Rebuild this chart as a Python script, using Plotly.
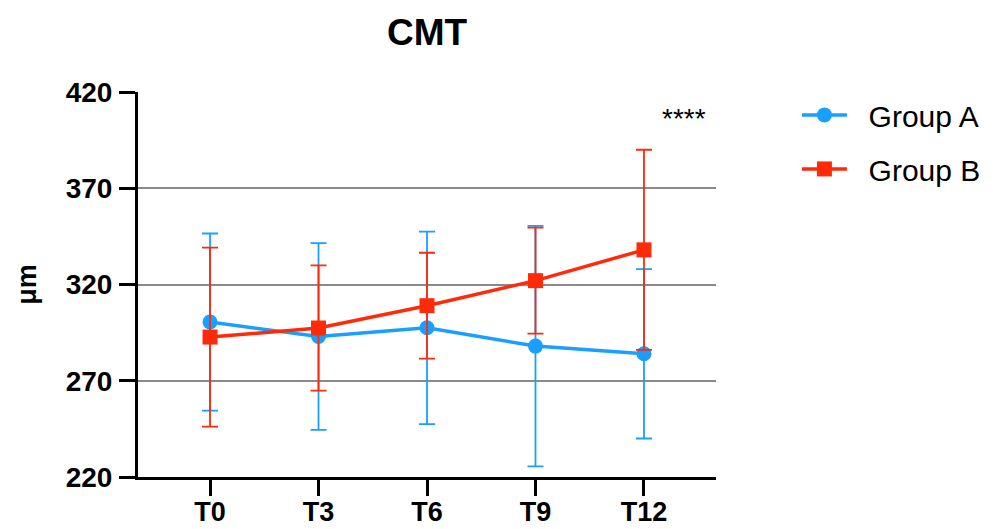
import plotly.graph_objects as go

timepoints = ["T0", "T3", "T6", "T9", "T12"]
group_a_mean = [300.5, 293, 297.5, 288, 284]
group_a_sd = [46, 48.5, 50, 62.5, 44]
group_b_mean = [292.7, 297.4, 309, 322, 338]
group_b_sd = [46.5, 32.5, 27.5, 27.5, 52]
y_ticks = [220, 270, 320, 370, 420]
series_names = ["Group A", "Group B"]

blue = "#1a9fff"
red = "#ff2a0a"
font_family = "Liberation Sans, Arial, Helvetica, sans-serif"
legend_pad = "\u00a0\u00a0"

x_pos = list(range(len(timepoints)))

fig = go.Figure()
fig.add_trace(go.Scatter(
    x=x_pos, y=group_a_mean, name=legend_pad + series_names[0], mode="lines+markers",
    legendgroup="a",
    line=dict(color=blue, width=3.5),
    marker=dict(symbol="circle", size=15, color=blue),
    error_y=dict(type="data", array=group_a_sd, visible=True,
                 color=blue, thickness=1.8, width=8),
))
fig.add_trace(go.Scatter(
    x=x_pos, y=group_b_mean, name=legend_pad + series_names[1], mode="lines+markers",
    legendgroup="b",
    line=dict(color=red, width=3.5),
    marker=dict(symbol="square", size=15, color=red),
    error_y=dict(type="data", array=group_b_sd, visible=True,
                 color=red, thickness=1.8, width=8),
))

fig.add_annotation(
    x=4.368, y=406, xref="x", yref="y", text="****", showarrow=False,
    font=dict(family=font_family, size=28, color="black"),
)

fig.update_layout(
    width=993, height=529,
    margin=dict(l=138, r=277, t=92, b=52, autoexpand=False),
    paper_bgcolor="white", plot_bgcolor="white",
    font=dict(family=font_family, color="black"),
    title=dict(text="<b>CMT</b>", x=0.5, xref="paper", xanchor="center",
               y=1 - 32 / 529, yref="container", yanchor="middle",
               font=dict(size=37, family=font_family, color="black")),
    showlegend=True,
    legend=dict(x=1.14, y=1.008, xanchor="left", yanchor="top",
                font=dict(size=30, family=font_family, color="black"),
                tracegroupgap=12, traceorder="grouped", itemwidth=45,
                bgcolor="rgba(0,0,0,0)"),
    xaxis=dict(
        range=[-0.664, 4.664], tickmode="array", tickvals=x_pos,
        ticktext=[f"<b>{t}</b>" for t in timepoints],
        showline=True, linecolor="black", linewidth=3,
        ticks="outside", ticklen=16, tickwidth=3, tickcolor="black",
        showgrid=False, zeroline=False, automargin=False,
        tickfont=dict(size=27, family=font_family, color="black"),
        ticklabelstandoff=-7,
    ),
    yaxis=dict(
        range=[220, 420], tickmode="array", tickvals=y_ticks,
        ticktext=[f"<b>{v}</b>" for v in y_ticks],
        showline=True, linecolor="black", linewidth=3,
        ticks="outside", ticklen=16, tickwidth=3, tickcolor="black",
        showgrid=True, gridcolor="#8a8a8a", gridwidth=2,
        zeroline=False, automargin=False,
        tickfont=dict(size=28, family=font_family, color="black"),
        ticklabelstandoff=1,
        title=dict(text="<b>μm</b>", standoff=22,
                   font=dict(size=27, family=font_family, color="black")),
    ),
)

fig.write_html("out.html", config={"displayModeBar": False},
               post_script="document.body.style.margin='0';")
